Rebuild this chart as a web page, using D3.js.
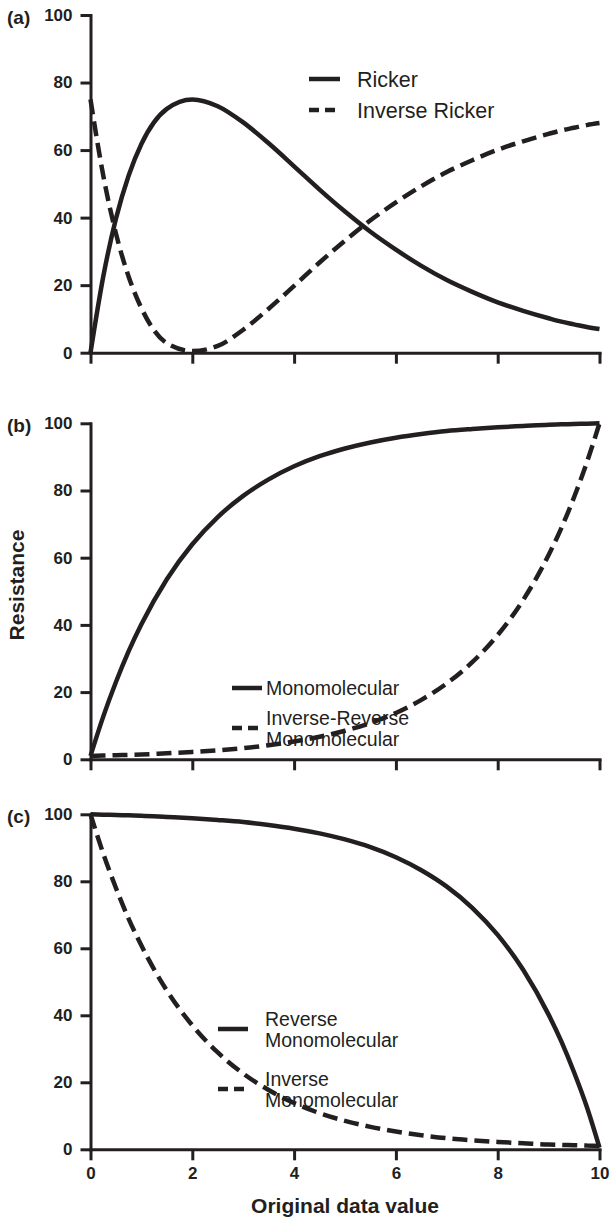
<!DOCTYPE html>
<html>
<head>
<meta charset="utf-8">
<script src="https://cdn.jsdelivr.net/npm/d3@7"></script>
<style>
  html, body { margin: 0; padding: 0; background: #ffffff; }
  svg { display: block; }
  text { font-family: "Liberation Sans", Arial, Helvetica, sans-serif; fill: #231f20; }
</style>
</head>
<body>
<svg id="chart" width="611" height="1220"></svg>
<script>
// ---- data ----
const xValues = [0, 0.25, 0.5, 0.75, 1, 1.5, 2, 2.5, 3, 3.5, 4, 4.5, 5, 5.5, 6, 6.5, 7, 7.5, 8, 8.5, 9, 9.25, 9.5, 9.75, 10];

const ricker        = [0, 22.5, 39.7, 52.5, 61.8, 72.2, 75.0, 73.0, 68.2, 62.0, 55.2, 48.3, 41.8, 35.8, 30.5, 25.7, 21.5, 18.0, 14.9, 12.4, 10.2, 9.2, 8.4, 7.6, 7.0];
const inverseRicker = [75, 52.5, 35.3, 22.5, 13.2, 2.8, 0.5, 2.0, 6.8, 13.0, 19.8, 26.7, 33.2, 39.2, 44.5, 49.3, 53.5, 57.0, 60.1, 62.6, 64.8, 65.8, 66.6, 67.4, 68.0];

const monomolecular        = [1, 12.7, 23.0, 32.2, 40.2, 53.6, 64.0, 72.1, 78.4, 83.3, 87.2, 90.2, 92.5, 94.3, 95.7, 96.8, 97.7, 98.3, 98.8, 99.2, 99.6, 99.7, 99.8, 99.9, 100];
const inverseReverseMono   = [1, 1.1, 1.2, 1.3, 1.4, 1.8, 2.2, 2.7, 3.3, 4.2, 5.3, 6.7, 8.5, 10.8, 13.8, 17.7, 22.6, 28.9, 37.0, 47.4, 60.8, 68.8, 78.0, 88.3, 100];

const reverseMono  = [100, 99.9, 99.8, 99.7, 99.6, 99.2, 98.8, 98.3, 97.7, 96.8, 95.7, 94.3, 92.5, 90.2, 87.2, 83.3, 78.4, 72.1, 64.0, 53.6, 40.2, 32.2, 23.0, 12.7, 0.5];
const inverseMono  = [100, 88.3, 78.0, 68.8, 60.8, 47.4, 37.0, 28.9, 22.6, 17.7, 13.8, 10.8, 8.5, 6.7, 5.3, 4.2, 3.3, 2.7, 2.2, 1.8, 1.4, 1.3, 1.2, 1.1, 1.0];

const xTicks = [0, 2, 4, 6, 8, 10];
const yTicks = [0, 20, 40, 60, 80, 100];
const panelLabels = ["(a)", "(b)", "(c)"];
const legendA = [["Ricker"], ["Inverse Ricker"]];
const legendB = [["Monomolecular"], ["Inverse-Reverse", "Monomolecular"]];
const legendC = [["Reverse", "Monomolecular"], ["Inverse", "Monomolecular"]];
const xTitle = "Original data value";
const yTitle = "Resistance";

// ---- layout ----
const INK = "#231f20";
const svg = d3.select("#chart");
const x = d3.scaleLinear().domain([0, 10]).range([90.5, 599.5]);

const panels = [
  { label: panelLabels[0], top: 15.0, bottom: 352.7, series: [ricker, inverseRicker], legend: legendA,
    leg: { x1: 309, x2: 340, tx: 357, rows: [79, 110], fs: 21.5 } },
  { label: panelLabels[1], top: 423.3, bottom: 759.3, series: [monomolecular, inverseReverseMono], legend: legendB,
    leg: { x1: 232, x2: 262, tx: 266, rows: [688, 728], fs: 19.5 } },
  { label: panelLabels[2], top: 814.3, bottom: 1149.3, series: [reverseMono, inverseMono], legend: legendC,
    leg: { x1: 218, x2: 248, tx: 265, rows: [1029, 1089], fs: 19.5 } }
];

panels.forEach((p, pi) => {
  const y = d3.scaleLinear().domain([0, 100]).range([p.bottom, p.top]);
  const g = svg.append("g");

  // y axis
  const yAxis = g.append("g")
    .attr("transform", `translate(${x(0)},0)`)
    .call(d3.axisLeft(y).tickValues(yTicks).tickSize(10).tickSizeOuter(0).tickPadding(8));
  // x axis
  const xAxis = g.append("g")
    .attr("transform", `translate(0,${y(0)})`)
    .call(d3.axisBottom(x).tickValues(xTicks).tickSize(11).tickSizeOuter(0).tickPadding(7));

  [yAxis, xAxis].forEach(a => {
    a.select(".domain").attr("stroke", INK).attr("stroke-width", 3).attr("stroke-linecap", "square");
    a.selectAll(".tick line").attr("stroke", INK).attr("stroke-width", 3);
    a.selectAll(".tick text")
      .attr("fill", INK)
      .style("font-family", '"Liberation Sans", Arial, sans-serif')
      .style("font-size", "17px")
      .style("font-weight", "bold");
  });
  // only bottom panel shows x tick labels
  if (pi < 2) xAxis.selectAll(".tick text").remove();

  // panel label
  g.append("text")
    .attr("x", 7).attr("y", p.top + 9)
    .style("font-size", "19px").style("font-weight", "bold")
    .text(p.label);

  // curves
  const line = d3.line()
    .x((d, i) => x(xValues[i]))
    .y(d => y(d))
    .curve(d3.curveMonotoneX);
  p.series.forEach((s, si) => {
    g.append("path")
      .datum(s)
      .attr("d", line)
      .attr("fill", "none")
      .attr("stroke", INK)
      .attr("stroke-width", 4.5)
      .attr("stroke-dasharray", si === 1 ? "15,7" : null);
  });

  // legend
  p.legend.forEach((lines, li) => {
    const cy = p.leg.rows[li];
    g.append("line")
      .attr("x1", p.leg.x1).attr("x2", p.leg.x2)
      .attr("y1", cy).attr("y2", cy)
      .attr("stroke", INK).attr("stroke-width", 4.5)
      .attr("stroke-dasharray", li === 1 ? "10,6" : null);
    const n = lines.length;
    lines.forEach((t, ti) => {
      g.append("text")
        .attr("x", p.leg.tx)
        .attr("y", cy + (ti - (n - 1) / 2) * 21)
        .attr("dy", "0.36em")
        .style("font-size", p.leg.fs + "px")
        .text(t);
    });
  });
});

// axis titles
svg.append("text")
  .attr("x", x(5)).attr("y", 1213)
  .attr("text-anchor", "middle")
  .style("font-size", "21px").style("font-weight", "bold")
  .text(xTitle);

svg.append("text")
  .attr("transform", "translate(24,585) rotate(-90)")
  .attr("text-anchor", "middle")
  .style("font-size", "21px").style("font-weight", "bold")
  .text(yTitle);
</script>
</body>
</html>
